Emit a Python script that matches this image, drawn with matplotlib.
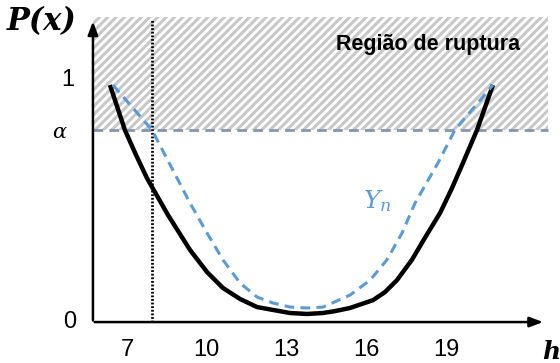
import numpy as np
import matplotlib
matplotlib.use('Agg')
import matplotlib.pyplot as plt
from matplotlib.patches import Rectangle

plt.rcParams['lines.scale_dashes'] = False
plt.rcParams['hatch.linewidth'] = 2.2
plt.rcParams['hatch.color'] = '#C8C8C8'
plt.rcParams['mathtext.fontset'] = 'dejavuserif'

# curva P(x) (preta)
h_p = [6.36, 6.92, 7.34, 7.75, 8.54, 9.37, 10.01, 10.61, 11.25, 11.89, 13.13, 13.77, 14.37, 14.82, 15.38,
       16.25, 16.70, 17.15, 17.71, 18.24, 18.77, 19.22, 19.63, 20.16, 20.76]
p_p = [0.996, 0.807, 0.702, 0.605, 0.450, 0.303, 0.210, 0.143, 0.097, 0.063, 0.038, 0.034, 0.038, 0.046, 0.059,
       0.092, 0.126, 0.176, 0.261, 0.361, 0.458, 0.563, 0.668, 0.807, 0.996]

# curva Yn (azul tracejada)
h_y = [6.47, 7.94, 9.37, 10.01, 10.61, 11.25, 11.89, 12.49, 13.13, 13.77, 14.37, 15.38, 16.14, 16.77,
       17.34, 17.83, 18.69, 19.33, 20.76]
p_y = [0.996, 0.807, 0.500, 0.374, 0.261, 0.164, 0.105, 0.080, 0.063, 0.059, 0.063, 0.113, 0.176, 0.261,
       0.374, 0.500, 0.668, 0.807, 0.996]

xticks = [7, 10, 13, 16, 19]
alpha_val = 0.807
h_lim = 7.94

fig = plt.figure(figsize=(5.6, 3.63), dpi=100)
ax = fig.add_axes([0, 0, 1, 1])
ax.set_xlim(2.226, 23.28)
ax.set_ylim(-0.172, 1.353)
ax.axis('off')

x0 = 5.72
# regiao de ruptura
ax.add_patch(Rectangle((x0, alpha_val), 22.83 - x0, 1.282 - alpha_val, fill=False,
                       hatch='////', edgecolor='#C8C8C8', linewidth=0))
ax.plot([x0, 22.83], [alpha_val, alpha_val], color='#8497B0', lw=2, ls=(0, (7, 4.5)))

ax.plot([h_lim, h_lim], [0, 1.269], color='black', lw=2, ls=(0, (1.3, 1.3)))

ax.plot(h_p, p_p, color='black', lw=3.2, solid_capstyle='butt', solid_joinstyle='round')
ax.plot(h_y, p_y, color='#5B9BD5', lw=2.2, ls=(0, (7, 4.5)))

# eixos
ax.annotate('', xy=(x0, 1.275), xytext=(x0, -0.005),
            arrowprops=dict(arrowstyle='-|>,head_length=0.8,head_width=0.3', color='black', lw=1.8))
ax.annotate('', xy=(22.75, 0), xytext=(x0 - 0.04, 0),
            arrowprops=dict(arrowstyle='-|>,head_length=0.8,head_width=0.3', color='black', lw=1.8))

for t in xticks:
    ax.text(t, -0.118, str(t), ha='center', va='center', fontsize=17, family='Liberation Sans')
ax.text(4.86, 0.0, '0', ha='center', va='center', fontsize=17, family='Liberation Sans')
ax.text(4.78, 1.017, '1', ha='center', va='center', fontsize=17, family='Liberation Sans')
ax.text(4.48, 0.80, r'$\alpha$', ha='center', va='center', fontsize=15)
ax.text(3.80, 1.262, 'P(x)', ha='center', va='center', fontsize=22, family='DejaVu Serif',
        weight='bold', style='italic')
ax.text(16.4, 0.51, r'$Y_n$', ha='center', va='center', fontsize=18, color='#5B9BD5')
ax.text(22.62, -0.125, 'h', ha='left', va='center', fontsize=18, family='DejaVu Serif',
        weight='bold', style='italic')
ax.text(18.32, 1.164, 'Região de ruptura', ha='center', va='center', fontsize=15.5,
        weight='bold', family='Liberation Sans')

fig.savefig('out.png', dpi=100)
